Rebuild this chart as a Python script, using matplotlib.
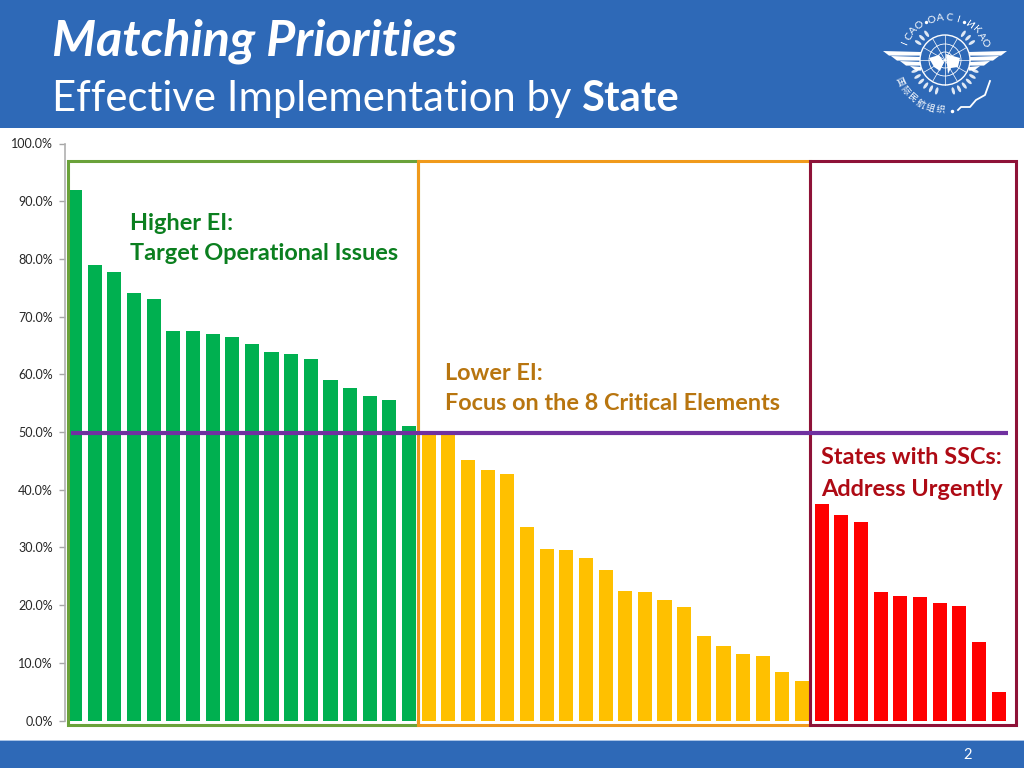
import numpy as np
import matplotlib
matplotlib.use("Agg")
import matplotlib.pyplot as plt
from matplotlib.patches import Rectangle, Circle, Ellipse, Polygon
from matplotlib.ticker import PercentFormatter

# values, one bar per State
higher_ei = [92.0, 79.0, 77.7, 74.1, 73.0, 67.5, 67.5, 66.9, 66.4, 65.3, 63.9, 63.6,
             62.6, 59.0, 57.6, 56.2, 55.6, 51.0]
lower_ei = [50.0, 49.8, 45.1, 43.4, 42.7, 33.6, 29.7, 29.6, 28.2, 26.1, 22.4, 22.3,
            20.9, 19.6, 14.6, 12.9, 11.6, 11.2, 8.4, 6.9]
ssc_states = [37.6, 35.6, 34.4, 22.2, 21.6, 21.4, 20.3, 19.8, 13.6, 5.0]
y_ticks = [0, 10, 20, 30, 40, 50, 60, 70, 80, 90, 100]
threshold = 49.85

BLUE = "#2E69B7"
W, H = 1024, 768
FONT = "Lato"

plt.rcParams["font.family"] = [FONT, "DejaVu Sans"]

fig = plt.figure(figsize=(W / 100, H / 100), dpi=100, facecolor="white")

# chart axes, placed by pixels of the slide
left, right, top, bottom = 65.2, 1008.4, 143.5, 720.5
ax = fig.add_axes([left / W, 1 - bottom / H, (right - left) / W, (bottom - top) / H])
ax.patch.set_alpha(0)

groups = [(higher_ei, "#00B050"), (lower_ei, "#FFC000"), (ssc_states, "#FF0000")]
start = 0
for values, colour in groups:
    xs = np.arange(start, start + len(values))
    ax.bar(xs, values, width=0.72, color=colour, zorder=2)
    start += len(values)

ax.set_xlim(-0.5, start - 0.5)
ax.set_ylim(0, 100)
ax.set_xticks([])
ax.set_yticks(y_ticks)
ax.yaxis.set_major_formatter(PercentFormatter(decimals=1))
ax.tick_params(axis="y", length=4, width=1, color="#A6A6A6", labelsize=9,
               labelcolor="#262626", pad=5)
for name in ["top", "right", "bottom"]:
    ax.spines[name].set_visible(False)
ax.spines["left"].set_color("#B0B0B0")
ax.spines["left"].set_linewidth(1.2)

# region boxes, x in bar units, y in percent
box_top, box_bottom = 96.9, -0.8
boxes = [(-0.37, 17.45, "#6AA23A"), (17.45, 37.4, "#F09A1C"), (37.4, 47.88, "#8E1238")]
for x0, x1, colour in boxes:
    ax.add_patch(Rectangle((x0, box_bottom), x1 - x0, box_top - box_bottom, fill=False,
                           edgecolor=colour, linewidth=2.2, clip_on=False, zorder=4))
ax.plot([-0.2, 47.46], [threshold, threshold], color="#7030A0", linewidth=3,
        clip_on=False, zorder=5, solid_capstyle="butt")

# slide furniture in pixel coordinates
ov = fig.add_axes([0, 0, 1, 1], zorder=-1)
ov.set_xlim(0, W)
ov.set_ylim(H, 0)
ov.axis("off")
ov.add_patch(Rectangle((0, 0), W, 128, color=BLUE, lw=0))
ov.add_patch(Rectangle((0, 741), W, 27, color=BLUE, lw=0))
ov.add_patch(Rectangle((0, 740), W, 1.2, color="#A9C3E6", lw=0))

fg = fig.add_axes([0, 0, 1, 1], zorder=5)
fg.set_xlim(0, W)
fg.set_ylim(H, 0)
fg.axis("off")

fg.text(52, 41, "Matching Priorities", color="white", fontsize=36.2, fontweight="bold",
        fontstyle="italic", va="center")
t = fg.text(52, 99, "Effective Implementation by ", color="white", fontsize=30.1, va="center")
fig.canvas.draw()
bb = t.get_window_extent()
fg.text(bb.x1, 99, "State", color="white", fontsize=30.1, fontweight="bold", va="center")
fg.text(968, 755, "2", color="white", fontsize=10.5, ha="center", va="center")

LABEL = 16.9
fg.text(130, 223, "Higher EI:", color="#0B7F1F", fontsize=LABEL, fontweight="bold", va="center")
fg.text(130, 254, "Target Operational Issues", color="#0B7F1F", fontsize=LABEL,
        fontweight="bold", va="center")
fg.text(445, 373, "Lower EI:", color="#B8750F", fontsize=LABEL, fontweight="bold", va="center")
fg.text(445, 403, "Focus on the 8 Critical Elements", color="#B8750F", fontsize=LABEL,
        fontweight="bold", va="center")
fg.text(821, 458, "States with SSCs:", color="#AE0A14", fontsize=LABEL, fontweight="bold", va="center")
fg.text(821, 489, "Address Urgently", color="#AE0A14", fontsize=LABEL, fontweight="bold", va="center")


# rough ICAO emblem
def arc_text(text, cx, cy, r, a0, a1, size, family=None):
    for ch, ang in zip(text, np.linspace(a0, a1, len(text))):
        rad = np.radians(ang)
        x = cx + r * np.sin(rad)
        y = cy - r * np.cos(rad)
        rot = -ang if abs(ang) < 90 else 180 - ang
        fg.text(x, y, ch, color="white", fontsize=size, rotation=rot, rotation_mode="anchor",
                ha="center", va="center", family=family or [FONT, "DejaVu Sans"])


cx, cy = 945, 60
arc_text("ICAO", cx, cy, 43, -67, -36, 7.5)
fg.plot(cx - 19, cy - 38, "o", color="white", ms=1.4)
arc_text("OACI", cx, cy, 42, -18, 18, 7.5)
fg.plot(cx + 19, cy - 38, "o", color="white", ms=1.4)
arc_text("ИКАО", cx, cy, 43, 35, 67, 7.5)
arc_text("国际民航组织", cx, cy, 50, -115, -175, 6.5, ["Noto Sans CJK SC", "DejaVu Sans"])

for side in (-1, 1):
    for y0, x_tip in [(52, 62), (57, 54), (62, 45), (67, 35)]:
        pts = [(cx + side * 24, y0), (cx + side * x_tip, y0 - 1), (cx + side * (x_tip - 6), y0 + 3.6),
               (cx + side * 24, y0 + 3.6)]
        fg.add_patch(Polygon(pts, closed=True, color="white", lw=0))
    # laurel leaves
    for ang in list(np.arange(110, 175, 11)) + list(np.arange(35, 65, 11)):
        rad = np.radians(ang)
        fg.add_patch(Ellipse((cx + side * 32 * np.sin(rad), cy - 32 * np.cos(rad)), 3, 7.5,
                             angle=side * ang, color="white", lw=0, alpha=0.85))

# globe
fg.add_patch(Circle((cx, cy), 25, fc=BLUE, ec="white", lw=1))
for r in (8, 16):
    fg.add_patch(Circle((cx, cy), r, fill=False, ec="white", lw=0.6))
for ang in np.arange(0, 180, 30):
    dx, dy = 25 * np.cos(np.radians(ang)), 25 * np.sin(np.radians(ang))
    fg.plot([cx - dx, cx + dx], [cy - dy, cy + dy], color="white", lw=0.5)
fg.add_patch(Polygon([(cx - 16, cy - 2), (cx - 6, cy - 5), (cx - 1, cy + 2), (cx - 5, cy + 11), (cx - 11, cy + 7)],
                     closed=True, color="white", lw=0))
fg.add_patch(Polygon([(cx + 1, cy - 6), (cx + 15, cy - 2), (cx + 13, cy + 7), (cx + 6, cy + 8), (cx + 3, cy + 14)],
                     closed=True, color="white", lw=0))

# arabic line of the emblem, as a stroke
fg.plot([958, 961, 970, 976, 985, 990], [110, 107, 107, 100, 95, 81], color="white", lw=1.3)
fg.plot(952, 111, "o", color="white", ms=1.5)

fig.savefig("out.png", dpi=100, facecolor="white")
